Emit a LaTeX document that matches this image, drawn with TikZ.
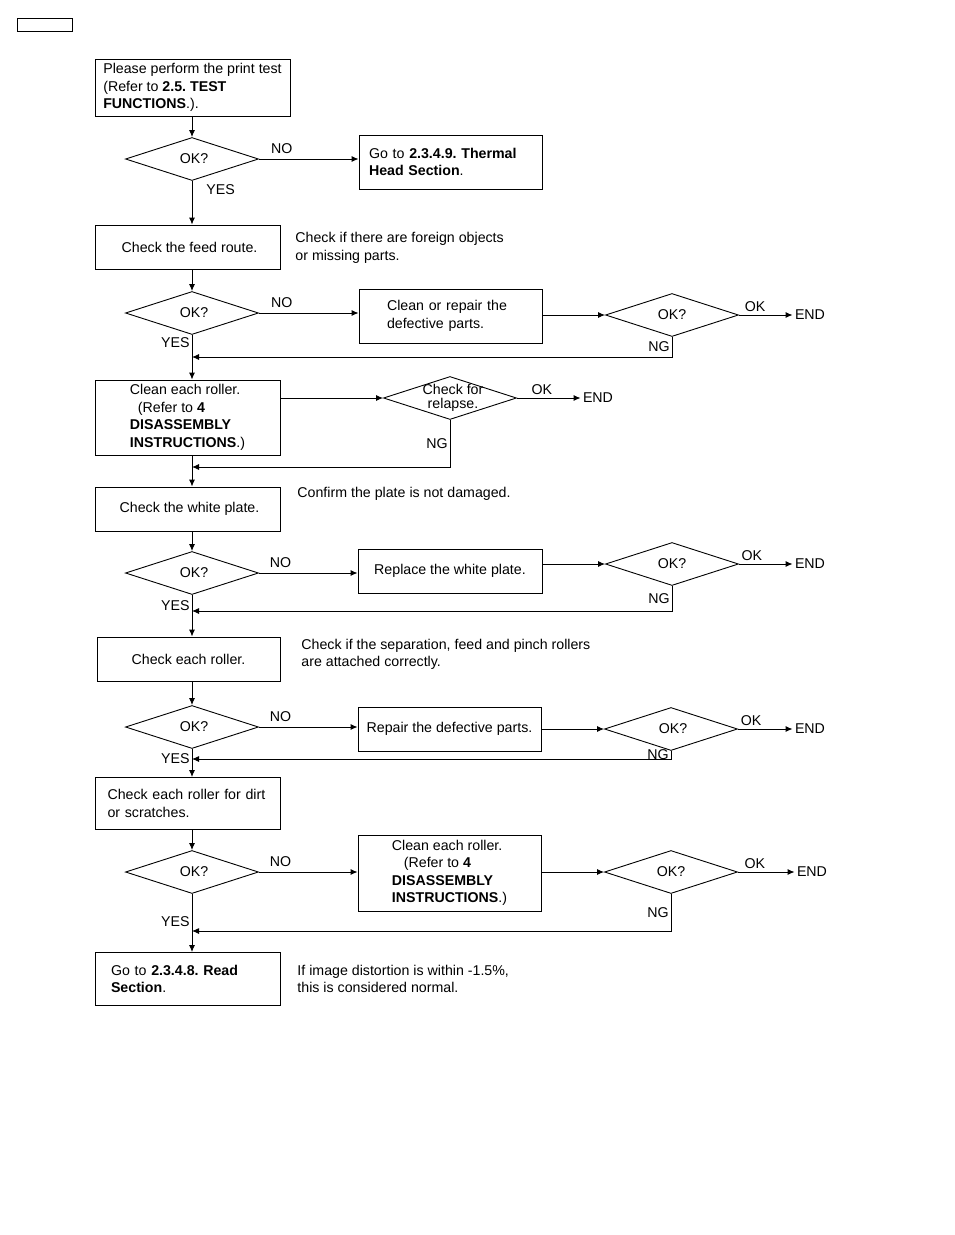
\documentclass[tikz,border=0pt]{standalone}
\usepackage{fontspec}
\setmainfont{Liberation Sans}
\usetikzlibrary{arrows.meta,shapes.geometric}
\frenchspacing

\begin{document}
\begin{tikzpicture}[->,>={Latex[length=7pt,width=6pt]},x=1pt,y=-1pt,line width=0.9pt,
  font=\fontsize{14.2}{17.5}\selectfont,
  box/.style={draw,rectangle,inner sep=0pt,minimum width=185,align=left},
  dia/.style={draw,diamond,aspect=3,inner sep=0pt,minimum width=133,minimum height=43},
  note/.style={anchor=west,inner sep=0pt,align=left},
  lbl/.style={inner sep=2pt}]
\useasboundingbox (0,0) rectangle (954,1235);
\node[draw,minimum width=55,minimum height=13,inner sep=0pt,line width=0.8pt] (tag) at (44.5,24.5) {};
\coordinate (col) at (192,0);

% print test
\node[box,minimum width=195,minimum height=57] (b1) at (192.5,87.5) {Please perform the print test\\(Refer to \textbf{2.5. TEST}\\\textbf{FUNCTIONS}.).};
\node[dia] (d1) at (192,159) {\hspace*{4pt}OK?};
\node[box,minimum width=183,minimum height=54,text width=163] (g1) at (450.5,162) {Go to \textbf{2.3.4.9. Thermal}\\\textbf{Head Section}.};

% feed route
\node[box,minimum height=44] (b2) at (187.5,247) {\hspace*{4pt}Check the feed route.};
\node[note] (n1) at (295,248) {Check if there are foreign objects\\or missing parts.};
\node[dia] (d2) at (192,313) {\hspace*{4pt}OK?};
\node[box,minimum width=183,minimum height=54,text width=127] (r1) at (450.5,316) {Clean or repair the\\defective parts.};
\node[dia] (d3) at (672,315) {OK?};
\node[lbl] (e1) at (810,315) {END};
\coordinate (j1) at (192,357);

% rollers, relapse
\node[box,minimum height=75] (b3) at (187.5,417.5) {Clean each roller.\\\hspace*{8pt}(Refer to \textbf{4}\\\textbf{DISASSEMBLY}\\\textbf{INSTRUCTIONS}.)};
\node[dia] (d4) at (450,398) {\makebox[0pt]{\hspace*{6pt}\shortstack{Check for\\relapse.}}};
\node[lbl] (e2) at (598,398) {END};
\coordinate (j2) at (192,467);

% white plate
\node[box,minimum height=44] (b4) at (187.5,509) {\hspace*{4pt}Check the white plate.};
\node[note] (n2) at (297,494) {Confirm the plate is not damaged.};
\node[dia] (d5) at (192,573) {\hspace*{4pt}OK?};
\node[box,minimum width=184,minimum height=44] (r2) at (450,571) {Replace the white plate.};
\node[dia] (d6) at (672,564) {OK?};
\node[lbl] (e3) at (810,564) {END};
\coordinate (j3) at (192,611);

% each roller
\node[box,minimum width=183,minimum height=44] (b5) at (188.5,659) {Check each roller.};
\node[note] (n3) at (301,654.5) {Check if the separation, feed and pinch rollers\\are attached correctly.};
\node[dia] (d7) at (192,727) {\hspace*{4pt}OK?};
\node[box,minimum width=183,minimum height=44] (r4) at (449.5,729) {Repair the defective parts.};
\node[dia] (d8) at (671,729) {\hspace*{4pt}OK?};
\node[lbl] (e4) at (810,729) {END};
\coordinate (j4) at (192,759);

% dirt or scratches
\node[box,minimum height=52,text width=160] (b6) at (187.5,803.5) {Check each roller for dirt\\or scratches.};
\node[dia] (d9) at (192,872) {\hspace*{4pt}OK?};
\node[box,minimum width=183,minimum height=76] (r3) at (449.5,873) {Clean each roller.\\\hspace*{12pt}(Refer to \textbf{4}\\\textbf{DISASSEMBLY}\\\textbf{INSTRUCTIONS}.)};
\node[dia] (d10) at (671,872) {OK?};
\node[lbl] (e5) at (812,872) {END};
\coordinate (j5) at (192,931);

% read section
\node[box,minimum height=53,text width=153] (b7) at (187.5,979) {Go to \textbf{2.3.4.8. Read}\\\textbf{Section}.};
\node[note] (n4) at (297,979) {If image distortion is within -1.5\%,\\this is considered normal.};

\path (col |- b1.south) edge (d1.north)
      (d1.east) edge node[lbl,above=3pt,pos=0.23] {NO} (d1.east -| g1.west)
      (d1.south) edge node[lbl,right=12pt,pos=0.2] {YES} (col |- b2.north)
      (col |- b2.south) edge (d2.north)
      (d2.east) edge node[lbl,above=3pt,pos=0.23] {NO} (d2.east -| r1.west)
      (d3.west -| r1.east) edge (d3.west)
      (d3.east) edge node[lbl,above=1pt,pos=0.3] {OK} (e1.west)
      (d2.south) edge node[lbl,left,pos=0.18] {YES} (col |- b3.north)
      (d4.west -| b3.east) edge (d4.west)
      (d4.east) edge node[lbl,above=1pt,pos=0.39] {OK} (e2.west)
      (col |- b3.south) edge (col |- b4.north)
      (col |- b4.south) edge (d5.north)
      (d5.east) edge node[lbl,above=3pt,pos=0.22] {NO} (d5.east -| r2.west)
      (d6.west -| r2.east) edge (d6.west)
      (d6.east) edge node[lbl,above=1pt,pos=0.24] {OK} (e3.west)
      (d5.south) edge node[lbl,left,pos=0.26] {YES} (col |- b5.north)
      (col |- b5.south) edge (d7.north)
      (d7.east) edge node[lbl,above=3pt,pos=0.22] {NO} (d7.east -| r4.west)
      (d8.west -| r4.east) edge (d8.west)
      (d8.east) edge node[lbl,above=1pt,pos=0.24] {OK} (e4.west)
      (d7.south) edge node[lbl,left,pos=0.36] {YES} (col |- b6.north)
      (col |- b6.south) edge (d9.north)
      (d9.east) edge node[lbl,above=3pt,pos=0.22] {NO} (d9.east -| r3.west)
      (d10.west -| r3.east) edge (d10.west)
      (d10.east) edge node[lbl,above=1pt,pos=0.3] {OK} (e5.west)
      (d9.south) edge node[lbl,left,pos=0.47] {YES} (col |- b7.north)
;
\draw (d3.south) |- node[lbl,left,pos=0.25] {NG} (j1);
\draw (d4.south) |- node[lbl,left,pos=0.25] {NG} (j2);
\draw (d6.south) |- node[lbl,left,pos=0.25] {NG} (j3);
\draw (d8.south) |- node[lbl,left,pos=0.25] {NG} (j4);
\draw (d10.south) |- node[lbl,left,pos=0.25] {NG} (j5);
\end{tikzpicture}
\end{document}
